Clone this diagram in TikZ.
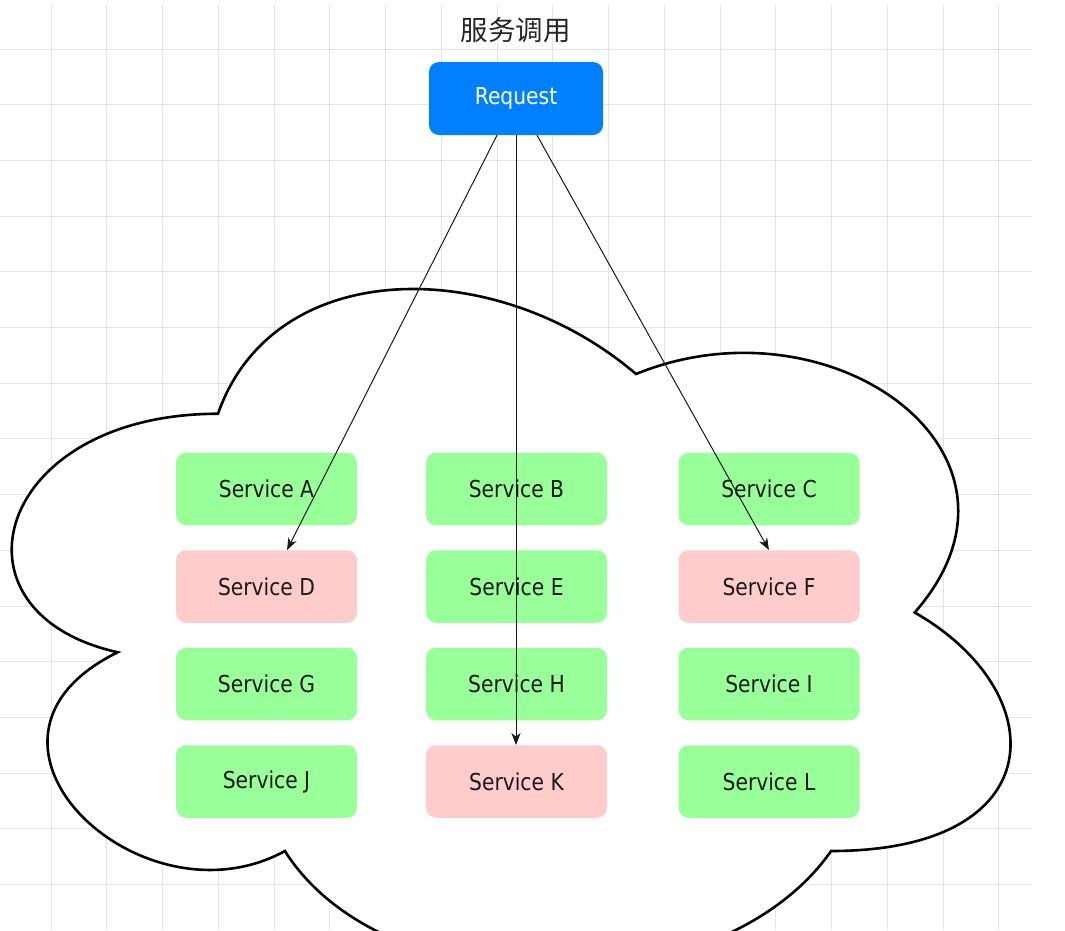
\documentclass[tikz,border=0pt]{standalone}
\usepackage{fontspec}
\setmainfont{DejaVu Sans}
\newfontfamily\svcfont{DejaVu Sans}[FakeStretch=0.87]
\newfontfamily\cjkfont{Noto Sans CJK SC}
\usetikzlibrary{arrows.meta}
\definecolor{gridgray}{RGB}{228,228,228}
\definecolor{reqblue}{RGB}{0,127,255}
\definecolor{okgreen}{RGB}{153,255,153}
\definecolor{badred}{RGB}{255,204,204}
\definecolor{txtdark}{RGB}{25,25,25}
\begin{document}
\begin{tikzpicture}[x=1pt,y=-1pt,
  svc/.style={rounded corners=10pt, minimum width=181pt, minimum height=72.5pt, inner sep=0pt,
    font=\svcfont\fontsize{23.3}{28}\selectfont, text=txtdark},
  okbox/.style={svc, fill=okgreen},
  badbox/.style={svc, fill=badred},
  reqbox/.style={svc, fill=reqblue, text=white, minimum width=174pt, minimum height=73pt},
  call/.style={draw=black!90, line width=1pt, -{Stealth[length=12pt,width=9pt,inset=3.5pt]}},
  cloudline/.style={draw=black, line width=2.6pt, fill=white, line join=miter},
  gridline/.style={draw=gridgray, line width=1pt}
]
\useasboundingbox (0,0) rectangle (1065,930);
\fill[white] (0,0) rectangle (1065,930);
% grid
\begin{scope}
\clip (0,5) rectangle (1032,930);
\foreach \i in {0,...,17} \draw[gridline] ({51+55.75*\i},0) -- ++(0,930);
\foreach \j in {0,...,15} \draw[gridline] (0,{49+55.7*\j}) -- ++(1032,0);
\end{scope}
% cloud
\path[cloudline] (218.0,413.75) .. controls (-5.0,413.75) and (-60.7,612.5) .. (117.7,652.25)
  .. controls (-60.7,739.7) and (140.0,930.5) .. (284.9,851)
  .. controls (385.2,1010) and (719.6,1010) .. (831.1,851)
  .. controls (1054.0,851) and (1054.0,692) .. (914.7,612.5)
  .. controls (1054.0,453.5) and (831.1,294.5) .. (636.0,374)
  .. controls (496.6,254.75) and (273.7,254.75) .. (218.0,413.75) -- cycle;
% title
\node[font=\cjkfont\fontsize{27.5}{33}\selectfont, text=black!85] (title) at (515.5,30) {服务调用};
% request
\node[reqbox] (req) at (516,98.5) {Request};
% services
\node[okbox]  (sA) at (266.5,489) {Service A};
\node[okbox]  (sB) at (516.5,489) {Service B};
\node[okbox]  (sC) at (769,489) {Service C};
\node[badbox] (sD) at (266.5,586.5) {Service D};
\node[okbox]  (sE) at (516.5,586.5) {Service E};
\node[badbox] (sF) at (769,586.5) {Service F};
\node[okbox]  (sG) at (266.5,684) {Service G};
\node[okbox]  (sH) at (516.5,684) {Service H};
\node[okbox]  (sI) at (769,684) {Service I};
\node[okbox]  (sJ) at (266.5,781.5) {Service J};
\node[badbox] (sK) at (516.5,781.5) {Service K};
\node[okbox]  (sL) at (769,781.5) {Service L};
% calls
\draw[call] ([xshift=-19pt]req.south) -- ([xshift=20.5pt]sD.north);
\draw[call] (req.south) -- (req.south |- sK.north);
\draw[call] ([xshift=21pt]req.south) -- (sF.north);
\end{tikzpicture}
\end{document}
